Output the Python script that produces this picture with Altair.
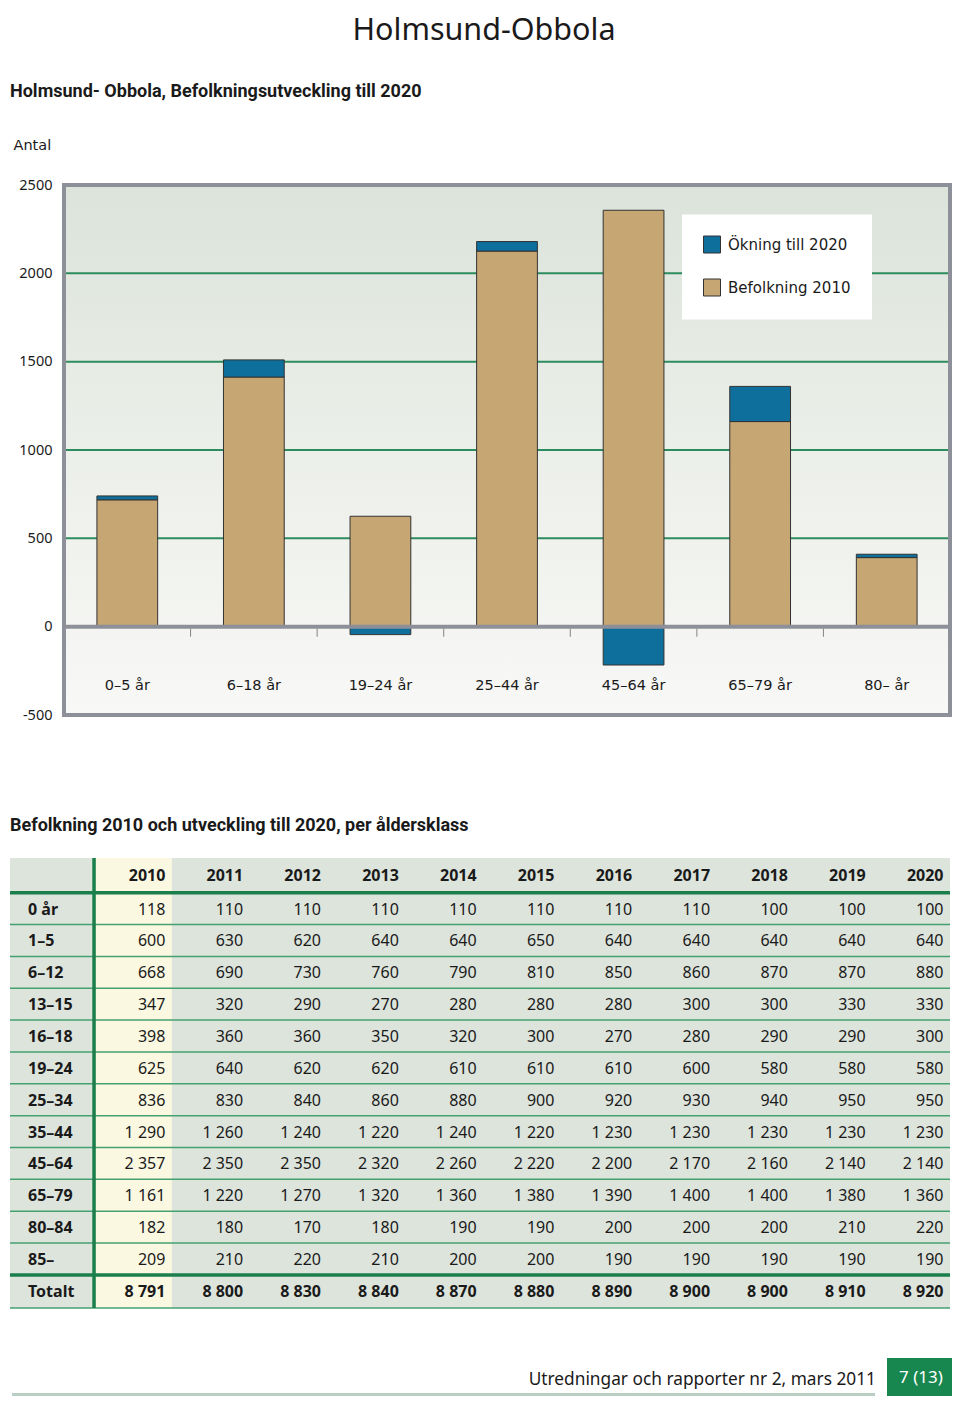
import altair as alt
import pandas as pd

# ---------------- text ----------------
page_title = "Holmsund-Obbola"
chart_title = "Holmsund- Obbola, Befolkningsutveckling till 2020"
table_title = "Befolkning 2010 och utveckling till 2020, per åldersklass"
footer_text = "Utredningar och rapporter nr 2, mars 2011"
page_no = "7 (13)"

# ---------------- table data ----------------
years = ["2010", "2011", "2012", "2013", "2014", "2015", "2016", "2017", "2018", "2019", "2020"]
row_labels = ["0 år", "1–5", "6–12", "13–15", "16–18", "19–24", "25–34",
              "35–44", "45–64", "65–79", "80–84", "85–", "Totalt"]
r_0 = [118, 110, 110, 110, 110, 110, 110, 110, 100, 100, 100]
r_1_5 = [600, 630, 620, 640, 640, 650, 640, 640, 640, 640, 640]
r_6_12 = [668, 690, 730, 760, 790, 810, 850, 860, 870, 870, 880]
r_13_15 = [347, 320, 290, 270, 280, 280, 280, 300, 300, 330, 330]
r_16_18 = [398, 360, 360, 350, 320, 300, 270, 280, 290, 290, 300]
r_19_24 = [625, 640, 620, 620, 610, 610, 610, 600, 580, 580, 580]
r_25_34 = [836, 830, 840, 860, 880, 900, 920, 930, 940, 950, 950]
r_35_44 = [1290, 1260, 1240, 1220, 1240, 1220, 1230, 1230, 1230, 1230, 1230]
r_45_64 = [2357, 2350, 2350, 2320, 2260, 2220, 2200, 2170, 2160, 2140, 2140]
r_65_79 = [1161, 1220, 1270, 1320, 1360, 1380, 1390, 1400, 1400, 1380, 1360]
r_80_84 = [182, 180, 170, 180, 190, 190, 200, 200, 200, 210, 220]
r_85 = [209, 210, 220, 210, 200, 200, 190, 190, 190, 190, 190]
r_tot = [8791, 8800, 8830, 8840, 8870, 8880, 8890, 8900, 8900, 8910, 8920]
table_values = [r_0, r_1_5, r_6_12, r_13_15, r_16_18, r_19_24, r_25_34,
                r_35_44, r_45_64, r_65_79, r_80_84, r_85, r_tot]

# ---------------- chart data ----------------
age_classes = ["0–5 år", "6–18 år", "19–24 år", "25–44 år", "45–64 år", "65–79 år", "80– år"]
class_rows = [["0 år", "1–5"], ["6–12", "13–15", "16–18"], ["19–24"],
              ["25–34", "35–44"], ["45–64"], ["65–79"], ["80–84", "85–"]]
legend_labels = ["Ökning till 2020", "Befolkning 2010"]
y_ticks = [2500, 2000, 1500, 1000, 500, 0, -500]
grid_values = [500, 1000, 1500, 2000]

row_map = dict(zip(row_labels, table_values))
pop_2010 = [sum(row_map[r][0] for r in rows) for rows in class_rows]
pop_2020 = [sum(row_map[r][-1] for r in rows) for rows in class_rows]

# ---------------- styles ----------------
F_TXT = "Noto Sans"
F_CHART = "DejaVu Sans"
F_HEAD = "Roboto"
TAN = "#c6a673"
BLUE = "#0e6e9c"
FRAME = "#8e9099"
GRID = "#2e8b5e"
DARK_GREEN = "#1b7f4c"
THIN_GREEN = "#45a070"
TXT = "#1a1a1a"

W_BAR, H_BAR = 886, 530
one = pd.DataFrame({"a": [0]})

# ---------------- bar chart ----------------
bdf = pd.DataFrame({"klass": age_classes, "b2010": pop_2010, "b2020": pop_2020})
bdf["change"] = bdf["b2020"] - bdf["b2010"]
bdf["inc_lo"] = bdf.apply(lambda r: r["b2010"] if r["change"] >= 0 else 0, axis=1)
bdf["inc_hi"] = bdf.apply(lambda r: r["b2020"] if r["change"] >= 0 else r["change"], axis=1)
bdf["s_tan"] = legend_labels[1]
bdf["s_blue"] = legend_labels[0]

yscale = alt.Scale(domain=[-500, 2500], nice=False, zero=False)
yaxis = alt.Axis(values=y_ticks, domain=False, ticks=False, grid=False, labelPadding=12,
                 labelFont=F_TXT, labelFontSize=14.5, labelColor=TXT,
                 labelExpr="'' + datum.value",
                 title="Antal", titleAngle=0, titleAlign="left", titleBaseline="middle",
                 titleX=-51, titleY=-39.5, titleFont=F_CHART, titleFontSize=14.5,
                 titleFontWeight="normal", titleColor=TXT)
xscale = alt.Scale(paddingInner=0.52, paddingOuter=0.26)
xaxis = alt.Axis(orient="bottom", offset=-88, domain=False, tickSize=8, tickOpacity=0,
                 labelPadding=43, labelAngle=0,
                 labelFont=F_CHART, labelFontSize=14.5, labelColor=TXT, title=None,
                 zindex=1)
color = alt.Color("serie:N", scale=alt.Scale(domain=legend_labels, range=[BLUE, TAN]),
                  legend=alt.Legend(orient="none", legendX=618, legendY=29.5, title=None,
                                    fillColor="white", padding=21, symbolType="square",
                                    symbolSize=289, symbolStrokeColor="#333333",
                                    symbolStrokeWidth=1, symbolOpacity=1,
                                    labelFont=F_CHART, labelFontSize=15, labelColor=TXT,
                                    rowPadding=21, labelOffset=7))


def yq(field):
    return alt.Y(field, scale=yscale, axis=yaxis)


def xn():
    return alt.X("klass:N", sort=age_classes, scale=xscale, axis=xaxis)


gradient = alt.LinearGradient(
    gradient="linear", x1=0, x2=0, y1=0, y2=1,
    stops=[alt.GradientStop(color="#dbe3da", offset=0),
           alt.GradientStop(color="#eaeee8", offset=0.45),
           alt.GradientStop(color="#f8f8f6", offset=1)])

bg = alt.Chart(one).mark_rect(fill=gradient).encode(
    x=alt.value(0), x2=alt.value("width"), y=alt.value(0), y2=alt.value("height"))

grid = alt.Chart(pd.DataFrame({"v": grid_values})).mark_rule(
    color=GRID, strokeWidth=2).encode(y=yq("v:Q"))

tan = alt.Chart(bdf).transform_calculate(serie="datum.s_tan").mark_bar(
    stroke="#333333", strokeWidth=1).encode(
    x=xn(), y=yq("b2010:Q"), color=color)

blue = alt.Chart(bdf).transform_calculate(serie="datum.s_blue").mark_bar(
    stroke="#333333", strokeWidth=1).encode(
    x=xn(), y=yq("inc_lo:Q"), y2="inc_hi:Q", color=color)

zero = alt.Chart(pd.DataFrame({"v": [0]})).mark_rule(
    color=FRAME, strokeWidth=4).encode(y=yq("v:Q"))

# small separator ticks between the age classes, hanging under the zero line
sep_df = pd.DataFrame({"klass": age_classes[:-1], "v": 0})
seps = alt.Chart(sep_df).mark_tick(
    orient="vertical", size=8, thickness=1, color="#555555",
    xOffset=W_BAR / 7 / 2, yOffset=6).encode(x=xn(), y=yq("v:Q"))

frame = alt.Chart(one).mark_rect(fillOpacity=0, stroke=FRAME, strokeWidth=4).encode(
    x=alt.value(0), x2=alt.value("width"), y=alt.value(0), y2=alt.value("height"))

main_title = alt.Chart(pd.DataFrame({"t": [page_title]})).mark_text(
    align="center", baseline="top", font=F_TXT, fontSize=30.5, color=TXT).encode(
    x=alt.value(420), y=alt.value(-169), text="t:N")

sub_title = alt.Chart(pd.DataFrame({"t": [chart_title]})).mark_text(
    align="left", baseline="middle", font=F_HEAD, fontSize=18, fontWeight="bold",
    color=TXT).encode(x=alt.value(-54), y=alt.value(-93.5), text="t:N")

bar_chart = alt.layer(bg, grid, tan, blue, zero, seps, frame, main_title,
                      sub_title).properties(width=W_BAR, height=H_BAR)

# ---------------- table ----------------
def fmt(v):
    return f"{v:,}".replace(",", " ")


YT, YB = -0.09, 14.04          # table top (header is a little taller) and bottom
cells = []
for k, yv in enumerate(years):
    cells.append({"r": (YT + 1) / 2, "c": k + 1, "t": yv, "w": "bold"})
for i, (lab, vals) in enumerate(zip(row_labels, table_values), start=1):
    w = "bold" if lab == "Totalt" else "normal"
    rc = (13 + YB) / 2 if lab == "Totalt" else i + 0.5
    for k, v in enumerate(vals):
        cells.append({"r": rc, "c": k + 1, "t": fmt(v), "w": w})
cdf = pd.DataFrame(cells)
XL, XR = -1.08, 11
ldf = pd.DataFrame({"r": [i + 1.5 if i < 12 else (13 + YB) / 2 for i in range(len(row_labels))],
                    "c": XL, "t": row_labels})

txs = alt.Scale(domain=[XL, XR], range=[-54, 886], nice=False, zero=False)
tys = alt.Scale(domain=[YT, YB], range=[0, 450], nice=False, zero=False)


def tx(f):
    return alt.X(f, scale=txs, axis=None)


def ty(f):
    return alt.Y(f, scale=tys, axis=None)


rect_df = pd.DataFrame({"x": [XL, 0], "x2": [XR, 1], "y": [YT, YT], "y2": [YB, YB],
                        "f": ["#dde4dc", "#fbf8e2"]})
t_bg = alt.Chart(rect_df).mark_rect().encode(
    x=tx("x:Q"), x2="x2:Q", y=ty("y:Q"), y2="y2:Q",
    color=alt.Color("f:N", scale=None))

thin_df = pd.DataFrame({"y": list(range(2, 13)) + [YB], "x": XL, "x2": XR})
t_thin = alt.Chart(thin_df).mark_rule(color=THIN_GREEN, strokeWidth=1.5).encode(
    x=tx("x:Q"), x2="x2:Q", y=ty("y:Q"))
thick_df = pd.DataFrame({"y": [1, 13], "x": XL, "x2": XR})
t_thick = alt.Chart(thick_df).mark_rule(color=DARK_GREEN, strokeWidth=3.5).encode(
    x=tx("x:Q"), x2="x2:Q", y=ty("y:Q"))
t_vline = alt.Chart(pd.DataFrame({"x": [0], "y": [YT], "y2": [YB]})).mark_rule(
    color=DARK_GREEN, strokeWidth=3.5).encode(x=tx("x:Q"), y=ty("y:Q"), y2="y2:Q")

t_num = alt.Chart(cdf[cdf.w == "normal"]).mark_text(
    align="right", baseline="middle", dx=-6.5, dy=1, font=F_TXT, fontSize=16,
    color=TXT).encode(x=tx("c:Q"), y=ty("r:Q"), text="t:N")
t_bold = alt.Chart(cdf[cdf.w == "bold"]).mark_text(
    align="right", baseline="middle", dx=-6.5, dy=1, font=F_TXT, fontSize=16,
    fontWeight="bold", color=TXT).encode(x=tx("c:Q"), y=ty("r:Q"), text="t:N")
t_lab = alt.Chart(ldf).mark_text(
    align="left", baseline="middle", dx=18, dy=1, font=F_TXT, fontSize=16,
    fontWeight="bold", color=TXT).encode(x=tx("c:Q"), y=ty("r:Q"), text="t:N")

t_title = alt.Chart(pd.DataFrame({"t": [table_title]})).mark_text(
    align="left", baseline="middle", font=F_HEAD, fontSize=18, fontWeight="bold",
    color=TXT).encode(x=alt.value(-54), y=alt.value(-32), text="t:N")

# footer (page furniture, placed below the table)
f_line = alt.Chart(one).mark_rule(color="#b9cfc4", strokeWidth=3).encode(
    x=alt.value(-52), x2=alt.value(811), y=alt.value(536.5))
f_box = alt.Chart(one).mark_rect(color="#17874f").encode(
    x=alt.value(823), x2=alt.value(888), y=alt.value(500), y2=alt.value(538))
f_txt = alt.Chart(pd.DataFrame({"t": [footer_text]})).mark_text(
    align="right", baseline="middle", font=F_TXT, fontSize=17.3, color=TXT).encode(
    x=alt.value(812), y=alt.value(521.5), text="t:N")
f_no = alt.Chart(pd.DataFrame({"t": [page_no]})).mark_text(
    align="center", baseline="middle", font=F_TXT, fontSize=17, color="white").encode(
    x=alt.value(857), y=alt.value(520), text="t:N")

table_chart = alt.layer(t_bg, t_thin, t_thick, t_vline, t_num, t_bold, t_lab, t_title,
                        f_line, f_box, f_txt, f_no).properties(width=886, height=450)

chart = alt.vconcat(bar_chart, table_chart, spacing=95).properties(
    padding={"left": 0, "top": 8, "right": 0, "bottom": 0},
).configure_view(strokeWidth=0)

chart.save("out.html", embed_options={"renderer": "svg", "actions": False})
